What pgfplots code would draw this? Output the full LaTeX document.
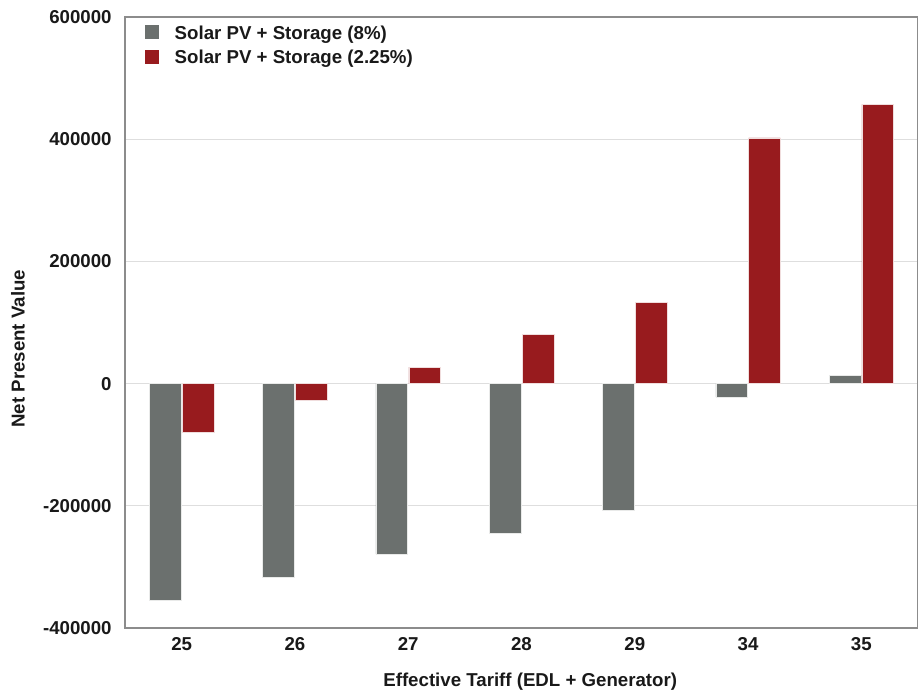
\documentclass[border=0pt]{standalone}
\usepackage{pgfplots}
\pgfplotsset{compat=1.18}
\usepackage{fontspec}
\setmainfont{Liberation Sans}
\definecolor{pvgray}{HTML}{6B706E}
\definecolor{pvred}{HTML}{981B1E}
\definecolor{gridc}{HTML}{DEDEDE}
\definecolor{framec}{HTML}{8C8C8C}
\begin{document}
\begin{tikzpicture}[x=1pt,y=1pt]
\path[use as bounding box] (0,0) rectangle (688.5,519);
\begin{axis}[
  at={(93.75pt,48pt)}, anchor=south west, scale only axis,
  width=594.75pt, height=458.25pt,
  xmin=-0.5, xmax=6.5, ymin=-400000, ymax=600000,
  ytick={-400000,-200000,0,200000,400000,600000},
  scaled y ticks=false,
  /pgf/number format/fixed,
  /pgf/number format/set thousands separator={},
  /pgf/number format/assume math mode=true,
  xtick={0,1,2,3,4,5,6}, xticklabels={25,26,27,28,29,34,35},
  major tick length=0pt,
  ymajorgrids, grid style={gridc, line width=1pt},
  axis line style={framec, line width=1pt},
  tick label style={font=\bfseries\fontsize{14}{16}\selectfont, text=black!90},
  yticklabel style={anchor=east, xshift=-6.5pt},
  xticklabel style={anchor=north, yshift=-3.6pt},
  ylabel={Net Present Value},
  xlabel={Effective Tariff (EDL + Generator)},
  every axis y label/.style={at={(axis description cs:-0.135,0.457)}, rotate=90, anchor=center,
    font=\bfseries\fontsize{14}{16}\selectfont, text=black!90},
  every axis x label/.style={at={(axis description cs:0.511,-0.088)}, anchor=center,
    font=\bfseries\fontsize{14}{16}\selectfont, text=black!90},
  ybar, bar width=0.28,
  legend style={at={(axis description cs:0.022,0.995)}, anchor=north west, draw=none, fill=none,
    font=\bfseries\fontsize{14}{16}\selectfont, text=black!90, row sep=2.5pt, inner sep=2pt},
  legend cell align=left,
  legend image code/.code={\fill[#1, draw=none] (0pt,-4.5pt) rectangle (10.5pt,6pt); \path[draw=none, fill=none] (0pt,0pt) -- (20pt,0pt);},
]
\addplot[fill=pvgray, draw=white!85!pvgray, line width=0.4pt, bar shift=-0.145] coordinates {
  (0,-354000) (1,-317000) (2,-279000) (3,-245000) (4,-207000) (5,-22000) (6,13000)};
\addplot[fill=pvred, draw=white!85!pvred, line width=0.4pt, bar shift=0.145] coordinates {
  (0,-80000) (1,-27000) (2,27000) (3,80000) (4,133000) (5,402000) (6,457000)};
\legend{Solar PV + Storage (8\%), Solar PV + Storage (2.25\%)}
\end{axis}
\end{tikzpicture}
\end{document}
